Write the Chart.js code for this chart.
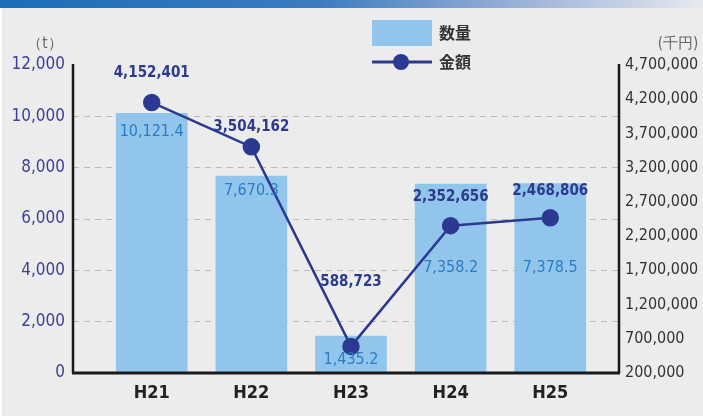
<!DOCTYPE html>
<html>
<head>
<meta charset="utf-8">
<script src="https://cdn.jsdelivr.net/npm/chart.js@4"></script>
<style>
  html, body { margin:0; padding:0; background:#ffffff; }
  #wrap { position:relative; width:703px; height:417px; background:#ffffff; overflow:hidden; }
  #bg { position:absolute; left:2px; top:0; width:701px; height:416px; background:#ebeceb; }
  #topbar { position:absolute; left:0; top:0; width:703px; height:8px;
    background:linear-gradient(to right, #1c6db8 0%, #3a7cc0 45%, #9fb3d8 75%, #e6e9ef 100%); }
  canvas { position:absolute; left:0; top:0; }
</style>
</head>
<body>
<div id="wrap">
  <div id="bg"></div>
  <canvas id="c" width="703" height="417"></canvas>
  <div id="topbar"></div>
</div>
<script>
const categories = ['H21', 'H22', 'H23', 'H24', 'H25'];
const quantityValues = [10121.4, 7670.3, 1435.2, 7358.2, 7378.5];
const amountValues = [4152401, 3504162, 588723, 2352656, 2468806];
const quantityName = '数量';
const amountName = '金額';
const leftUnit = '（t）';
const rightUnit = '(千円)';

// label placement styles (pixel offsets)
const barLabelOffsets = [19, 15, 24, 84, 84];
const lineLabelOffsets = [-29, -20, -64, -29, -27];

const FONT = '"DejaVu Sans Condensed", "Noto Sans", sans-serif';
const BAR_COLOR = '#92c5ec';
const LINE_COLOR = '#2b3990';

const fmt = (v, d) => v.toLocaleString('en-US', {minimumFractionDigits: d, maximumFractionDigits: d});

const overlay = {
  id: 'overlay',
  afterDatasetsDraw(chart) {
    const ctx = chart.ctx;
    const a = chart.chartArea;
    ctx.save();
    // axis lines
    ctx.strokeStyle = '#1a1a1a';
    ctx.setLineDash([]);
    ctx.lineWidth = 2.5;
    ctx.beginPath();
    ctx.moveTo(a.left, a.top - 1); ctx.lineTo(a.left, a.bottom);
    ctx.moveTo(a.right, a.top - 1); ctx.lineTo(a.right, a.bottom);
    ctx.stroke();
    ctx.lineWidth = 3;
    ctx.beginPath();
    ctx.moveTo(a.left - 1, a.bottom); ctx.lineTo(a.right + 1, a.bottom);
    ctx.stroke();

    // bar labels
    const barMeta = chart.getDatasetMeta(0);
    ctx.font = '16px ' + FONT;
    ctx.fillStyle = '#2a7cc5';
    ctx.textAlign = 'center';
    ctx.textBaseline = 'middle';
    barMeta.data.forEach((el, i) => {
      ctx.fillText(fmt(quantityValues[i], 1), el.x, el.y + barLabelOffsets[i]);
    });
    // line labels
    const lineMeta = chart.getDatasetMeta(1);
    ctx.font = 'bold 15px ' + FONT;
    ctx.fillStyle = '#2e3a8c';
    lineMeta.data.forEach((el, i) => {
      ctx.fillText(fmt(amountValues[i], 0), el.x, el.y + lineLabelOffsets[i]);
    });

    // units
    ctx.font = '15px ' + FONT;
    ctx.fillStyle = '#666';
    ctx.textAlign = 'center';
    ctx.fillText(leftUnit, 45, 44);
    ctx.fillText(rightUnit, 678, 44);

    // legend
    const ds0 = chart.data.datasets[0], ds1 = chart.data.datasets[1];
    ctx.fillStyle = ds0.backgroundColor;
    ctx.fillRect(372, 20, 60, 26);
    ctx.strokeStyle = ds1.borderColor;
    ctx.lineWidth = 3;
    ctx.beginPath(); ctx.moveTo(372, 62); ctx.lineTo(432, 62); ctx.stroke();
    ctx.fillStyle = ds1.pointBackgroundColor;
    ctx.beginPath(); ctx.arc(401, 62, 8, 0, Math.PI * 2); ctx.fill();
    ctx.font = 'bold 16px "Noto Sans CJK JP", sans-serif';
    ctx.fillStyle = '#333';
    ctx.textAlign = 'left';
    ctx.fillText(ds0.label, 439, 33);
    ctx.fillText(ds1.label, 439, 62);
    ctx.restore();
  }
};

new Chart(document.getElementById('c'), {
  type: 'bar',
  data: {
    datasets: [
      {
        type: 'bar',
        label: quantityName,
        data: quantityValues.map((v, i) => ({x: i, y: v})),
        backgroundColor: BAR_COLOR,
        barThickness: 71,
        yAxisID: 'y',
        order: 2
      },
      {
        type: 'line',
        label: amountName,
        data: amountValues.map((v, i) => ({x: i, y: v})),
        borderColor: LINE_COLOR,
        backgroundColor: LINE_COLOR,
        pointBackgroundColor: LINE_COLOR,
        pointBorderColor: LINE_COLOR,
        pointRadius: 7.5,
        borderWidth: 2.5,
        tension: 0,
        yAxisID: 'y1',
        order: 1
      }
    ]
  },
  options: {
    responsive: false,
    animation: false,
    events: [],
    layout: { padding: { top: 65, left: 0, right: 0, bottom: 0 } },
    plugins: { legend: { display: false }, tooltip: { enabled: false } },
    scales: {
      x: {
        type: 'linear',
        offset: false,
        min: -0.79,
        max: 4.69,
        afterBuildTicks: s => { s.ticks = categories.map((c, i) => ({value: i})); },
        afterFit: s => { s.height = 44; },
        grid: { display: false, drawTicks: false },
        border: { display: false },
        ticks: {
          callback: v => categories[v] ?? '',
          color: '#222',
          font: { family: FONT, size: 18, weight: 'bold' },
          padding: 10,
          maxRotation: 0,
          autoSkip: false
        }
      },
      y: {
        position: 'left',
        min: 0,
        max: 12000,
        afterFit: s => { s.width = 73; },
        grid: {
          drawTicks: false,
          lineWidth: 1,
          color: c => (c.tick && (c.tick.value === 0 || c.tick.value === 12000)) ? 'rgba(0,0,0,0)' : '#b9bbbb',
          borderDash: [6, 5]
        },
        border: { display: false, dash: [6, 5] },
        ticks: {
          stepSize: 2000,
          callback: v => v.toLocaleString('en-US'),
          color: '#3d3f98',
          font: { family: FONT, size: 17 },
          padding: 8
        }
      },
      y1: {
        position: 'right',
        min: 200000,
        max: 4700000,
        afterFit: s => { s.width = 84; },
        grid: { display: false, drawTicks: false },
        border: { display: false },
        ticks: {
          stepSize: 500000,
          callback: v => v.toLocaleString('en-US'),
          color: '#333',
          font: { family: FONT, size: 16 },
          padding: 6
        }
      }
    }
  },
  plugins: [overlay]
});
</script>
</body>
</html>
